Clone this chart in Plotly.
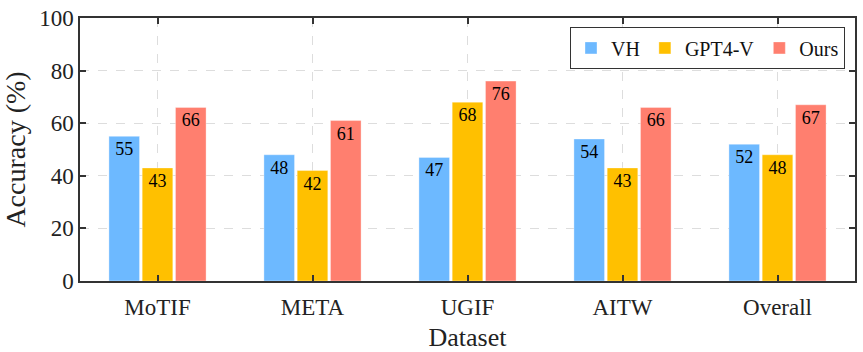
import plotly.graph_objects as go

datasets = ["MoTIF", "META", "UGIF", "AITW", "Overall"]
vh = [55, 48, 47, 54, 52]
gpt4v = [43, 42, 68, 43, 48]
ours = [66, 61, 76, 66, 67]
series_names = ["VH", "GPT4-V", "Ours"]
colors = ["#6DB9FF", "#FFC000", "#FF7F6F"]

FONT = "Liberation Serif"

fig = go.Figure()
for name, vals, c in zip(series_names, [vh, gpt4v, ours], colors):
    fig.add_trace(go.Bar(
        x=datasets, y=vals, name=name,
        marker=dict(color=c, line=dict(color="rgba(255,255,255,0.35)", width=1)),
        text=[str(v) for v in vals],
        textposition="inside", insidetextanchor="end",
        textfont=dict(family=FONT, size=18, color="black"),
        textangle=0,
    ))

axis_common = dict(
    showline=True, linecolor="#333333", linewidth=1.5,
    mirror="ticks", ticks="inside", ticklen=6, tickcolor="#333333", tickwidth=1.5,
    showgrid=True, gridcolor="#DDDDDD", gridwidth=1.2, griddash="dash",
    zeroline=False, automargin=False,
    tickfont=dict(family=FONT, size=23, color="#222222"),
)

fig.update_layout(
    width=863, height=352,
    margin=dict(l=80, r=8, t=18, b=71),
    paper_bgcolor="white", plot_bgcolor="white",
    barmode="group", bargap=0.356, bargroupgap=0.08,
    font=dict(family=FONT, color="#222222"),
    uniformtext=dict(minsize=18, mode="show"),
    xaxis=dict(**axis_common, range=[-0.5, 4.5], ticklabelstandoff=5,
               title=dict(text="Dataset", font=dict(family=FONT, size=26), standoff=10)),
    yaxis=dict(**axis_common, range=[0, 100], dtick=20,
               title=dict(text="Accuracy (%)", font=dict(family=FONT, size=28), standoff=6)),
    legend=dict(orientation="h", x=0.632, y=0.965, xanchor="left", yanchor="top",
                bordercolor="#333333", borderwidth=1.2, bgcolor="white",
                font=dict(family=FONT, size=20, color="#111111"),
                itemwidth=30, tracegroupgap=0),
)

fig.write_html("out.html")
